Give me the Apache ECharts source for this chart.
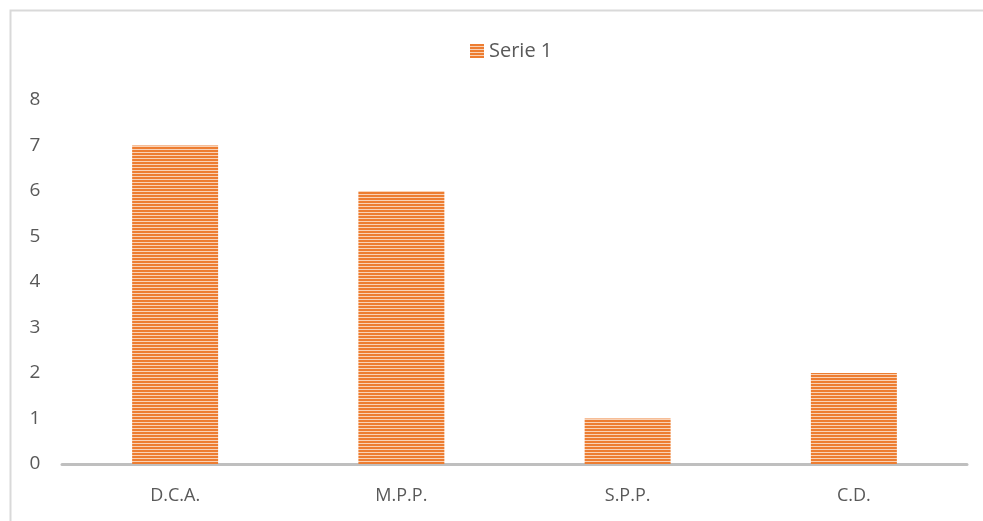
<!DOCTYPE html>
<html><head><meta charset="utf-8">
<script src="https://cdn.jsdelivr.net/npm/echarts@6/dist/echarts.min.js"></script>
<style>html,body{margin:0;padding:0;background:#fff}#c{width:983px;height:521px}</style>
</head><body><div id="c"></div>
<script>
const categories = ['D.C.A.', 'M.P.P.', 'S.P.P.', 'C.D.'];
const serie1 = [7, 6, 1, 2];
const yTicks = [0, 1, 2, 3, 4, 5, 6, 7, 8];

function stripes() {
  const c = document.createElement('canvas');
  c.width = 4; c.height = 3;
  const g = c.getContext('2d');
  g.fillStyle = '#ED7D31'; g.fillRect(0, 0, 4, 3);
  g.fillStyle = '#F9D2B6'; g.fillRect(0, 2, 4, 1);
  return c;
}
const pat = { image: stripes(), repeat: 'repeat' };

const chart = echarts.init(document.getElementById('c'));
chart.setOption({
  animation: false,
  textStyle: { fontFamily: 'Open Sans, Liberation Sans, sans-serif' },
  graphic: [{ type: 'rect', shape: { x: 10.5, y: 10.5, width: 1000, height: 600 }, style: { fill: 'none', stroke: '#D9D9D9', lineWidth: 2 }, silent: true }],
  legend: {
    top: 36, left: 465, itemWidth: 14, itemHeight: 14, itemGap: 5,
    textStyle: { color: '#595959', fontSize: 20 },
    data: [{ name: 'Serie 1', icon: 'rect', itemStyle: { color: pat } }]
  },
  grid: { left: 62, right: 16, top: 100, bottom: 57 },
  xAxis: {
    type: 'category', data: categories,
    axisLine: { lineStyle: { color: '#BFBFBF', width: 3 } },
    axisTick: { show: false },
    axisLabel: { color: '#595959', fontSize: 18, margin: 23 }
  },
  yAxis: {
    type: 'value', min: yTicks[0], max: yTicks[yTicks.length - 1], interval: 1,
    splitLine: { show: false }, axisLine: { show: false }, axisTick: { show: false },
    axisLabel: { color: '#595959', fontSize: 19, margin: 27, align: 'center' }
  },
  series: [{
    name: 'Serie 1', type: 'bar', data: serie1, barWidth: '38%',
    itemStyle: { color: pat }
  }]
});
</script></body></html>
